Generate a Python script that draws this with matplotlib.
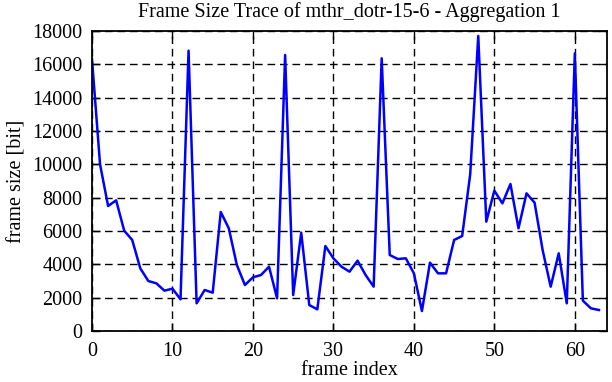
import matplotlib
matplotlib.use("Agg")
import matplotlib.pyplot as plt

frame_index = list(range(64))
frame_size = [16300, 10000, 7500, 7840, 6020, 5460, 3760, 3000, 2860, 2420,
              2540, 1900, 16820, 1660, 2460, 2300, 7140, 6160, 3960, 2760,
              3220, 3360, 3860, 1960, 16560, 2160, 5900, 1560, 1300, 5100,
              4360, 3860, 3560, 4220, 3360, 2660, 16360, 4560, 4320, 4360,
              3460, 1200, 4100, 3460, 3460, 5460, 5700, 9400, 17700, 6560,
              8420, 7660, 8820, 6160, 8260, 7700, 4860, 2660, 4660, 1660,
              16660, 1820, 1360, 1260]
x_ticks = [0, 10, 20, 30, 40, 50, 60]
y_ticks = list(range(0, 18001, 2000))

plt.rcParams['font.family'] = ['Liberation Serif', 'DejaVu Serif']
fig = plt.figure(figsize=(6.12, 3.82), dpi=100)
ax = fig.add_axes([92/612, 1-331/382, (607-92)/612, (331-31)/382])
ax.plot(frame_index, frame_size, color='#0000ff', lw=1.8)
ax.set_xlim(0, 64)
ax.set_ylim(0, 18000)
ax.set_xticks(x_ticks)
ax.set_yticks(y_ticks)
ax.grid(True, color='black', linestyle=(0, (5.5, 3.5)), linewidth=1.0)
ax.tick_params(direction='in', top=True, right=True, length=6, width=1, labelsize=14.5)
ax.tick_params(axis='y', pad=7)
ax.tick_params(axis='x', pad=8)
for s in ax.spines.values():
    s.set_linewidth(1.3)
ax.set_xlabel('frame index', fontsize=14.5, labelpad=0)
ax.set_ylabel('frame size [bit]', fontsize=14.5, labelpad=4)
ax.set_title('Frame Size Trace of mthr_dotr-15-6 - Aggregation 1', fontsize=14.5, pad=10)
fig.savefig('out.png', dpi=100)
